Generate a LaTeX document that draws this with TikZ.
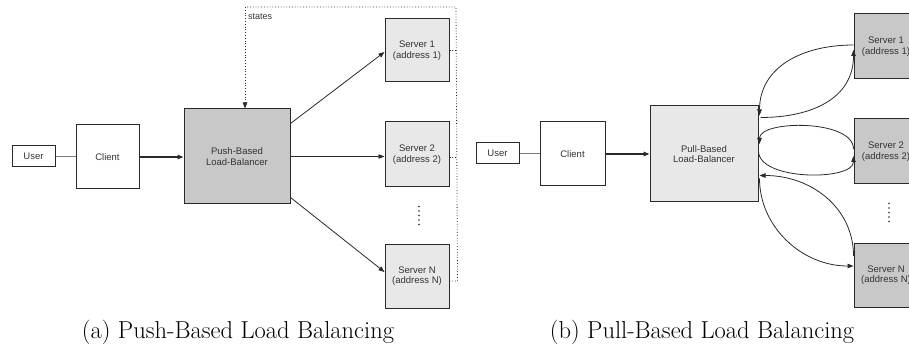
\documentclass[tikz,border=0pt]{standalone}
\usepackage{fontspec}
\newfontfamily\boxfont{Liberation Sans}
\usetikzlibrary{arrows.meta,calc}
\definecolor{edge}{HTML}{2A2A2A}
\definecolor{txt}{HTML}{333333}
\definecolor{darkfill}{HTML}{C8C8C8}
\definecolor{lightfill}{HTML}{E8E8E8}
\definecolor{wire}{HTML}{7A7A7A}
\tikzset{
  box/.style={draw=edge, line width=1pt, inner sep=0pt, align=center,
    text=txt, font=\boxfont\fontsize{9.5}{10.5}\selectfont},
  plainbox/.style={box, fill=white},
  darkbox/.style={box, fill=darkfill},
  lightbox/.style={box, fill=lightfill},
  arr/.style={draw=edge, line width=0.8pt, -{Triangle[length=6pt,width=4.5pt]}},
  feed/.style={draw=edge, line width=1.6pt, -{Triangle[length=6pt,width=4.5pt]}},
  wireline/.style={draw=wire, line width=1.2pt},
  statesline/.style={draw=edge, line width=0.8pt, dotted},
  ellipsis/.style={draw=edge, line width=1.6pt, line cap=round, dash pattern=on 0pt off 4.5pt},
  caption/.style={anchor=base, font=\fontsize{24.5}{29}\selectfont}
}
\begin{document}
\begin{tikzpicture}[x=1pt,y=-1pt]
\useasboundingbox (0,0) rectangle (909,347);

% ---------- (a) push-based ----------
\node[plainbox, minimum width=43, minimum height=21] (userA) at (33.5,156.5) {User};
\node[plainbox, minimum width=63, minimum height=64] (clientA) at (107.5,157) {Client};
\node[darkbox, minimum width=106, minimum height=95] (lbA) at (237,156.5) {Push-Based\\Load-Balancer};
\node[lightbox, minimum width=64, minimum height=63] (s1A) at (417,50.5) {Server 1\\(address 1)};
\node[lightbox, minimum width=64, minimum height=65] (s2A) at (417,154.5) {Server 2\\(address 2)};
\node[lightbox, minimum width=64, minimum height=64] (sNA) at (417,276) {Server N\\(address N)};

\draw[wireline] (userA.east) -- (userA.east -| clientA.west);
\draw[feed] (clientA.east) -- (clientA.east -| lbA.west);

\draw[arr] ($(lbA.north east)+(0,15)$) -- ($(s1A.west)+(0,1.5)$);
\draw[arr] ($(lbA.east)+(0,0)$) -- ($(lbA.east -| s2A.west)$);
\draw[arr] ($(lbA.south east)+(0,-7)$) -- ($(sNA.west)+(0,-4)$);

\draw[ellipsis] ($(s2A.south)+(2,19)$) -- ($(sNA.north)+(2,-18)$);

% state reports back to the balancer
\coordinate (busTop) at (456,7);
\coordinate (busBot) at ($(sNA.east)+(8,5)$);
\coordinate (stL) at (245,7);
\draw[statesline] (s1A.east) -- (s1A.east -| busTop);
\draw[statesline] ($(s2A.east)+(0,2.5)$) -- ($(s2A.east -| busTop)+(0,2.5)$);
\draw[statesline] ($(sNA.east)+(0,5)$) -- (busBot) -- (busTop) -- (stL);
\draw[statesline, -{Triangle[length=6pt,width=4.5pt]}] (stL) -- (stL |- lbA.north);
\node[anchor=west, inner sep=0pt, text=txt, font=\boxfont\fontsize{9}{10}\selectfont] (statesLbl) at (248,17) {states};

\node[caption] (capA) at (238,338) {(a) Push-Based Load Balancing};

% ---------- (b) pull-based ----------
\node[plainbox, minimum width=43, minimum height=21] (userB) at (497.5,153.5) {User};
\node[plainbox, minimum width=65, minimum height=64] (clientB) at (572.5,154) {Client};
\node[lightbox, minimum width=108, minimum height=96] (lbB) at (704,154) {Pull-Based\\Load-Balancer};
\node[darkbox, minimum width=64, minimum height=65] (s1B) at (886,46.5) {Server 1\\(address 1)};
\node[darkbox, minimum width=64, minimum height=65] (s2B) at (886,151.5) {Server 2\\(address 2)};
\node[darkbox, minimum width=64, minimum height=64] (sNB) at (886,275) {Server N\\(address N)};

\draw[wireline] (userB.east) -- (userB.east -| clientB.west);
\draw[feed] (clientB.east) -- (clientB.east -| lbB.west);

% server 1 exchange
\coordinate (a1u) at ($(lbB.north east)+(1,10)$);
\coordinate (a1l) at ($(lbB.north east)+(2,12)$);
\coordinate (b1u) at ($(s1B.west)+(0,-1.5)$);
\coordinate (b1l) at ($(s1B.west)+(0,3.5)$);
\draw[arr] (b1u) .. controls ($(b1u)+(-52,0)$) and ($(a1u)+(0,-48)$) .. (a1u);
\draw[arr] (a1l) .. controls ($(a1l)+(52,0)$) and ($(b1l)+(0,48)$) .. (b1l);

% server 2 exchange
\coordinate (a2u) at ($(lbB.east)+(1,-10)$);
\coordinate (a2l) at ($(lbB.east)+(0,-3)$);
\coordinate (b2u) at ($(s2B.west)+(0,-2.5)$);
\coordinate (b2l) at ($(s2B.west)+(0,4.5)$);
\draw[arr] (b2u) .. controls ($(b2u)+(0,-30)$) and ($(a2u)+(0,-24)$) .. (a2u);
\draw[arr] (a2l) .. controls ($(a2l)+(0,30)$) and ($(b2l)+(0,25)$) .. (b2l);

% server N exchange
\coordinate (aNu) at ($(lbB.south east)+(1,-27)$);
\coordinate (aNl) at ($(lbB.south east)+(1,-24)$);
\coordinate (bNu) at ($(sNB.west)+(0,-19)$);
\coordinate (bNl) at ($(sNB.west)+(0,-9)$);
\draw[arr] (bNu) .. controls ($(bNu)+(0,-48)$) and ($(aNu)+(52,0)$) .. (aNu);
\draw[arr] (aNl) .. controls ($(aNl)+(0,48)$) and ($(bNl)+(-52,0)$) .. (bNl);

\draw[ellipsis] ($(s2B.south)+(3,19)$) -- ($(sNB.north)+(3,-17)$);

\node[caption] (capB) at (702,338) {(b) Pull-Based Load Balancing};
\end{tikzpicture}
\end{document}
